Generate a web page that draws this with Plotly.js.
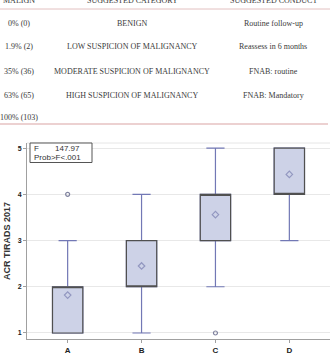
<!DOCTYPE html>
<html>
<head>
<meta charset="utf-8">
<script src="https://cdn.plot.ly/plotly-3.0.1.min.js"></script>
<style>
  html, body { margin: 0; padding: 0; background: #fff; }
  #chart { width: 330px; height: 357px; }
</style>
</head>
<body>
<div id="chart"></div>
<script>
// Table rows shown above the box plot
const tableHeaders = ['MALIGN', 'SUGGESTED CATEGORY', 'SUGGESTED CONDUCT'];
const malignancy = ['0% (0)', '1.9% (2)', '35% (36)', '63% (65)', '100% (103)'];
const suggestedCategory = ['BENIGN', 'LOW SUSPICION OF MALIGNANCY', 'MODERATE SUSPICION OF MALIGNANCY', 'HIGH SUSPICION OF MALIGNANCY'];
const suggestedConduct = ['Routine follow-up', 'Reassess in 6 months', 'FNAB: routine', 'FNAB: Mandatory'];

// Box plot summary statistics per group
const groups = ['A', 'B', 'C', 'D'];
const lowerFence = [1, 1, 2, 3];
const q1 = [1, 2, 3, 4];
const median = [2, 2, 4, 4];
const q3 = [2, 3, 4, 5];
const upperFence = [3, 4, 5, 5];
const means = [1.82, 2.45, 3.56, 4.43];
const outlierGroups = ['A', 'C'];
const outlierValues = [4, 1];

// ANOVA result
const fValue = '147.97';
const probText = 'Prob>F&lt;.001';

const W = 330, H = 357;
const M = { l: 27, r: 0, t: 143, b: 18 };
const pw = W - M.l - M.r, ph = H - M.t - M.b;
const px = x => (x - M.l) / pw;
const py = y => (H - M.b - y) / ph;

const fillCol = '#cdd2e7';
const whiskerCol = '#7278b5';
const boxCol = '#505050';

const traces = [
  {
    type: 'box', x: groups, q1: q1, median: median, q3: q3,
    lowerfence: lowerFence, upperfence: upperFence,
    width: 0.41, whiskerwidth: 0.6, boxpoints: false,
    fillcolor: fillCol, line: { color: whiskerCol, width: 1.2 },
    hoverinfo: 'skip', showlegend: false
  },
  {
    type: 'box', x: groups, q1: q1, median: median, q3: q3,
    lowerfence: q1, upperfence: q3,
    width: 0.41, whiskerwidth: 0, boxpoints: false,
    fillcolor: fillCol, line: { color: boxCol, width: 1.2 },
    hoverinfo: 'skip', showlegend: false
  },
  {
    type: 'scatter', mode: 'markers', x: groups, y: means,
    marker: { symbol: 'diamond-open', size: 5, color: '#9297c0', line: { width: 1.2 } },
    hoverinfo: 'skip', showlegend: false
  },
  {
    type: 'scatter', mode: 'markers', x: outlierGroups, y: outlierValues,
    marker: { symbol: 'circle-open', size: 4, color: '#80839f', line: { width: 1.2 } },
    hoverinfo: 'skip', showlegend: false
  }
];

const serif = { family: 'Liberation Serif, DejaVu Serif, serif', size: 8, color: '#3a3a3a' };
const annotations = [];
const colX = [19, 132, 273];
tableHeaders.forEach((h, i) => annotations.push({
  xref: 'paper', yref: 'paper', x: px(colX[i]), y: py(0), text: h,
  showarrow: false, xanchor: 'center', yanchor: 'middle', font: serif
}));
const rowY = [23, 47, 71, 96, 117];
malignancy.forEach((t, i) => annotations.push({
  xref: 'paper', yref: 'paper', x: px(colX[0]), y: py(rowY[i]), text: t,
  showarrow: false, xanchor: 'center', yanchor: 'middle', font: serif
}));
suggestedCategory.forEach((t, i) => annotations.push({
  xref: 'paper', yref: 'paper', x: px(colX[1]), y: py(rowY[i]), text: t,
  showarrow: false, xanchor: 'center', yanchor: 'middle', font: serif
}));
suggestedConduct.forEach((t, i) => annotations.push({
  xref: 'paper', yref: 'paper', x: px(colX[2]), y: py(rowY[i]), text: t,
  showarrow: false, xanchor: 'center', yanchor: 'middle', font: serif
}));

const sans = { family: 'Liberation Sans, Arial, sans-serif', size: 8, color: '#333' };
annotations.push(
  { xref: 'paper', yref: 'paper', x: px(32), y: py(148), text: 'F', showarrow: false,
    xanchor: 'left', yanchor: 'middle', font: sans },
  { xref: 'paper', yref: 'paper', x: px(53), y: py(148), text: fValue, showarrow: false,
    xanchor: 'left', yanchor: 'middle', font: sans },
  { xref: 'paper', yref: 'paper', x: px(32), y: py(157.5), text: probText, showarrow: false,
    xanchor: 'left', yanchor: 'middle', font: sans },
  { xref: 'paper', yref: 'paper', x: px(7), y: py(241), text: 'ACR TIRADS 2017', showarrow: false,
    textangle: -90, xanchor: 'center', yanchor: 'middle',
    font: { family: 'Liberation Sans, Arial, sans-serif', size: 9, color: '#333', weight: 'bold' } }
);

const shapes = [
  { type: 'line', xref: 'paper', yref: 'paper', x0: px(0), x1: px(330), y0: py(9), y1: py(9),
    line: { color: '#e2c0c0', width: 1 } },
  { type: 'line', xref: 'paper', yref: 'paper', x0: px(0), x1: px(328), y0: py(124), y1: py(124),
    line: { color: '#d9a3a3', width: 1 } },
  { type: 'line', xref: 'paper', yref: 'paper', x0: 0, x1: 1, y0: 1, y1: 1,
    line: { color: '#e6e6e6', width: 1 } },
  { type: 'rect', xref: 'paper', yref: 'paper', x0: px(30), x1: px(92), y0: py(143), y1: py(162.5),
    line: { color: '#555', width: 1 }, fillcolor: '#fff' }
];

const layout = {
  width: W, height: H, margin: M,
  paper_bgcolor: '#fff', plot_bgcolor: '#fff',
  boxmode: 'overlay', showlegend: false,
  xaxis: {
    range: [-0.55, 3.55], showgrid: false, zeroline: false,
    showline: true, linecolor: '#a0a0a0', linewidth: 1,
    ticks: 'outside', ticklen: 3, tickcolor: '#a0a0a0',
    tickfont: { family: 'Liberation Sans, Arial, sans-serif', size: 8, color: '#222', weight: 'bold' }
  },
  yaxis: {
    range: [0.87, 5.11], tickvals: [1, 2, 3, 4, 5], showgrid: true, gridcolor: '#e8e8e8',
    zeroline: false, showline: true, linecolor: '#a0a0a0', linewidth: 1,
    ticks: 'outside', ticklen: 3, tickcolor: '#a0a0a0',
    tickfont: { family: 'Liberation Sans, Arial, sans-serif', size: 7, color: '#222', weight: 'bold' }
  },
  annotations: annotations,
  shapes: shapes
};

Plotly.newPlot('chart', traces, layout, { staticPlot: true, displayModeBar: false });
</script>
</body>
</html>
